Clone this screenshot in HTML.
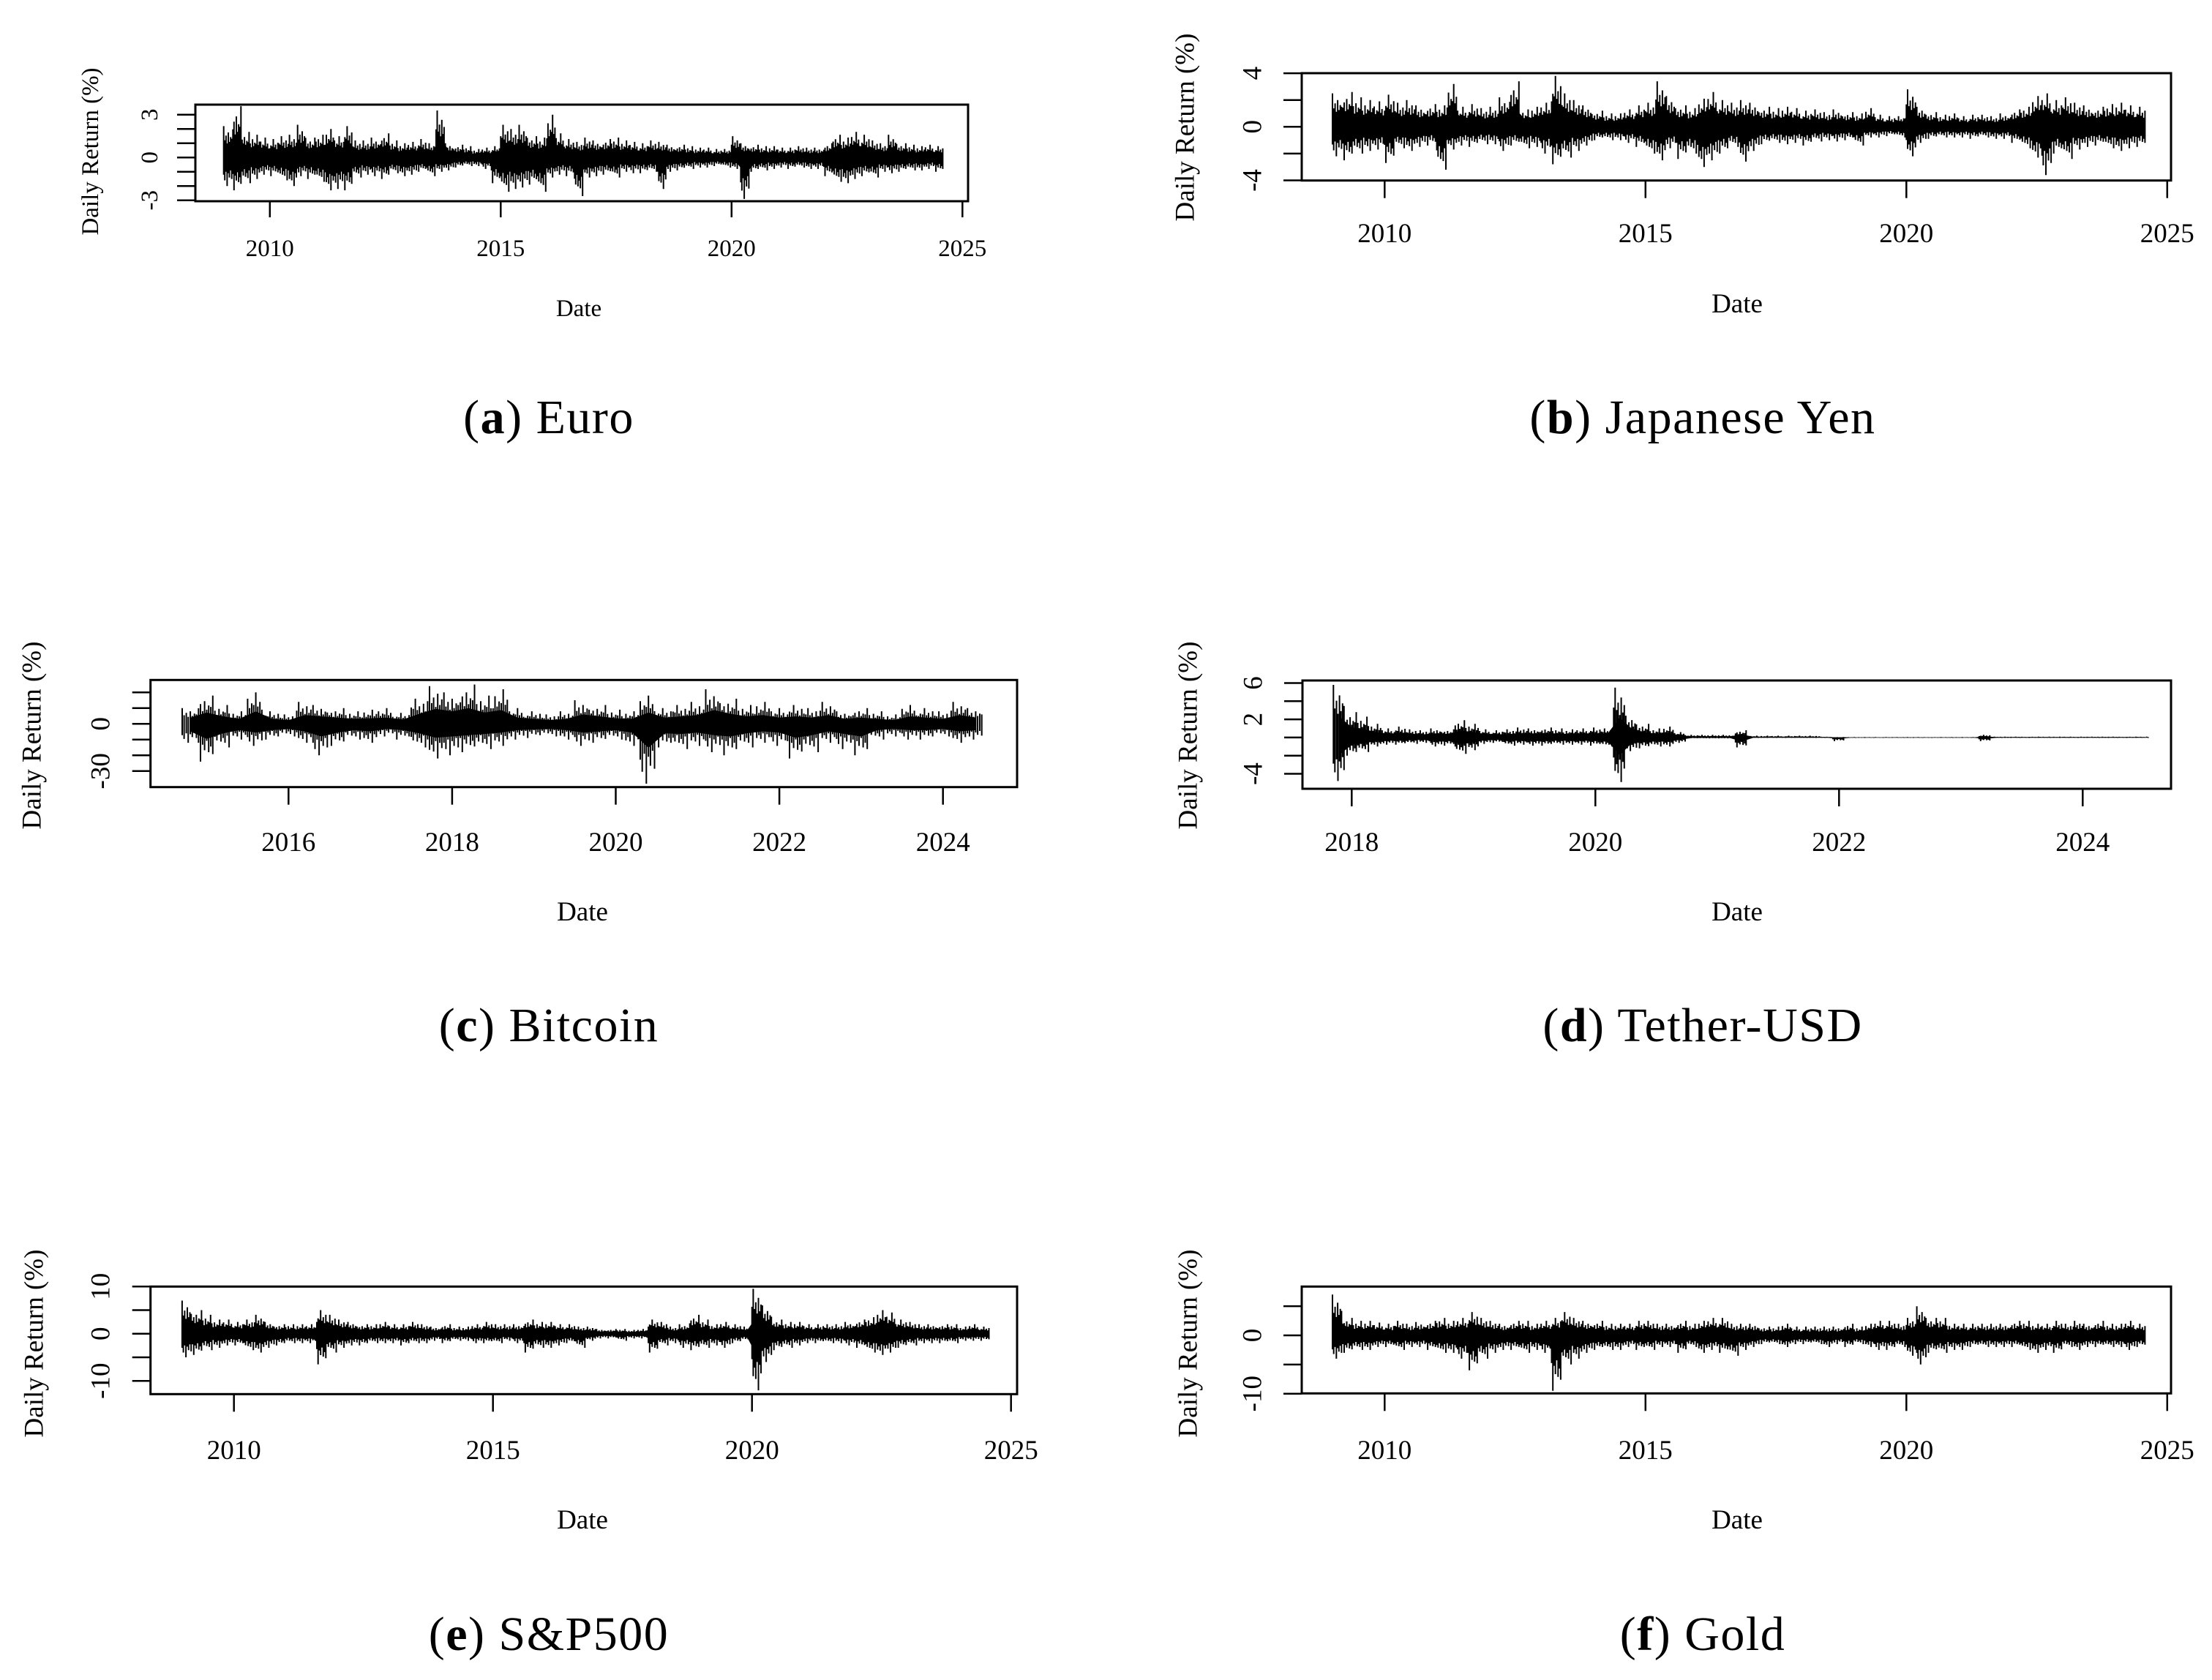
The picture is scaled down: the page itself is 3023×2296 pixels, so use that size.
<!DOCTYPE html>
<html><head><meta charset="utf-8"><style>
html,body{margin:0;padding:0;background:#fff;}
svg{display:block;font-family:"Liberation Serif",serif;}
</style></head><body>
<svg id="fig" width="3023" height="2296" viewBox="0 0 3023 2296" xmlns="http://www.w3.org/2000/svg">
<rect width="3023" height="2296" fill="#fff"/>
<g font-size="66" letter-spacing="1.5" text-anchor="middle">
<text x="750" y="592">(<tspan font-weight="bold">a</tspan>) Euro</text>
<text x="2327" y="592">(<tspan font-weight="bold">b</tspan>) Japanese Yen</text>
<text x="750" y="1423">(<tspan font-weight="bold">c</tspan>) Bitcoin</text>
<text x="2327" y="1423">(<tspan font-weight="bold">d</tspan>) Tether-USD</text>
<text x="750" y="2255">(<tspan font-weight="bold">e</tspan>) S&amp;P500</text>
<text x="2327" y="2255">(<tspan font-weight="bold">f</tspan>) Gold</text>
</g>
</svg>
<script>
// ---- data (bin extremes of daily return, %) ----
const euroStart = 2009.0, euroStep = 0.2;
const euroHi = [2.2,3.6,1.8,1.6,1.4, 1.3,1.5,1.6,2.3,1.4, 1.6,2.0,1.5,2.2,1.2, 1.2,1.4,1.7,1.2,1.0, 1.1,1.3,1.0,3.3,1.0, 0.9,0.8,0.6,0.7,0.8, 2.3,2.0,2.3,1.5,1.4, 3.0,1.7,1.3,1.1,1.4, 1.2,1.3,1.4,1.2,1.1, 1.0,1.2,1.1,0.9,0.9, 0.8,0.7,0.7,0.6,0.6, 1.5,1.0,0.9,0.8,0.8, 0.7,0.7,0.8,0.7,0.7, 1.0,1.6,1.4,1.8,1.6, 1.2,1.0,1.6,1.0,0.9, 0.8,0.9,0.8];
const euroLo = [-2.0,-2.3,-1.8,-1.5,-1.2, -1.3,-1.6,-2.0,-1.3,-1.5, -1.7,-2.3,-2.2,-2.3,-1.4, -1.2,-1.3,-1.5,-1.1,-1.3, -1.2,-1.0,-1.3,-1.0,-0.9, -0.7,-0.6,-0.6,-0.8,-1.8, -2.4,-2.2,-2.1,-1.9,-2.4, -1.4,-1.2,-1.3,-2.7,-1.4, -1.3,-1.2,-1.4,-1.0,-1.1, -1.1,-1.0,-2.2,-1.0,-0.9, -0.8,-0.7,-0.7,-0.6,-0.7, -0.8,-2.9,-1.0,-0.9,-0.8, -0.7,-0.8,-0.7,-0.8,-0.8, -1.3,-1.7,-1.8,-1.5,-1.3, -1.4,-1.0,-1.1,-1.0,-0.9, -0.9,-0.8,-1.0];

const yenStart = 2009.0, yenStep = 0.2;
const yenHi = [2.5,2.6,2.2,2.0,1.9, 2.4,1.8,2.0,1.6,1.7, 1.6,3.2,1.5,1.7,1.4, 1.5,2.2,3.4,1.3,1.5, 1.8,3.8,2.5,2.0,1.6, 1.2,1.0,1.0,1.3,1.6, 1.8,3.4,2.3,1.6,1.4, 2.1,2.6,2.0,1.8,2.0, 1.8,1.5,1.4,1.5,1.4, 1.2,1.3,1.1,1.3,1.1, 1.0,1.4,0.9,0.8,0.8, 2.8,1.5,1.1,0.9,1.0, 0.8,0.9,0.9,0.8,1.0, 1.3,1.5,2.3,2.5,2.0, 2.2,1.8,1.6,1.5,1.7, 1.8,1.6,1.5];
const yenLo = [-2.2,-2.5,-2.0,-1.8,-1.7, -2.7,-1.6,-1.8,-1.5,-1.4, -3.2,-1.7,-1.4,-1.5,-1.3, -1.3,-1.8,-1.4,-1.6,-1.5, -2.0,-2.8,-2.3,-1.8,-1.4, -1.0,-1.0,-1.0,-1.2,-1.5, -2.0,-2.5,-1.6,-2.4,-2.0, -3.0,-2.5,-2.0,-1.5,-2.6, -1.8,-1.3,-1.2,-1.3,-1.2, -1.4,-1.1,-1.0,-1.1,-1.0, -1.4,-0.8,-0.8,-0.7,-0.8, -2.2,-1.2,-0.9,-0.8,-0.8, -0.8,-0.9,-0.8,-0.9,-0.9, -1.2,-1.6,-2.3,-3.6,-2.0, -2.4,-1.7,-1.5,-1.4,-1.6, -1.8,-1.6,-1.5];

const btcStart = 2014.7, btcStep = 0.2;
const btcHi = [10,18,12,8,20, 8,6,14,12,10, 8,9,10,7,16, 24,20,25,18,22, 10,8,6,8,15, 12,9,8,18,10, 12,14,22,16,12, 14,10,12,10,14, 8,10,8,6,12, 10,8,14,10];
const btcLo = [-12,-24,-15,-10,-14, -10,-8,-12,-20,-14, -10,-12,-8,-10,-15, -22,-20,-18,-16,-14, -10,-9,-8,-10,-14, -12,-10,-14,-38,-15, -16,-14,-18,-20,-15, -12,-14,-22,-18,-12, -16,-20,-10,-8,-10, -10,-8,-12,-10];

const usdtStart = 2017.85, usdtStep = 0.1;
const usdtHi = [5.8,2.8,2.3,1.5,1.0,1.2,0.9,0.8,1.0,0.9, 1.9,1.5,0.9,0.8,0.9,1.1,1.0,1.1,1.0,0.9, 1.0,1.1,1.0,5.5,2.4,1.5,1.0,1.2,0.6,0.3, 0.3,0.3,0.3,0.8,0.2,0.2,0.2,0.2,0.2,0.2, 0.1,0.05,0.05,0.05,0.05,0.05,0.05,0.05,0.05,0.05, 0.05,0.05,0.05,0.3,0.1,0.1,0.1,0.1,0.1,0.1, 0.1,0.1,0.1,0.1,0.1,0.1,0.1];
const usdtLo = [-4.8,-2.0,-1.6,-1.0,-0.8,-0.8,-0.7,-0.6,-1.0,-0.9, -1.8,-1.4,-0.7,-0.6,-0.9,-0.8,-0.9,-0.9,-0.8,-0.8, -0.8,-0.9,-1.0,-4.9,-1.5,-1.2,-1.0,-1.0,-0.6,-0.1, -0.1,-0.1,-0.1,-1.1,-0.05,-0.05,-0.05,-0.05,-0.05,-0.05, -0.05,-0.4,-0.05,-0.05,-0.05,-0.05,-0.05,-0.05,-0.05,-0.05, -0.05,-0.05,-0.05,-0.4,-0.05,-0.05,-0.05,-0.05,-0.05,-0.05, -0.05,-0.05,-0.05,-0.05,-0.05,-0.05,-0.05];

const spxStart = 2009.0, spxStep = 0.2;
const spxHi = [7,5,4,3,3, 2.5,3,4,2.5,2, 2,2,2,5,4, 3,2.5,2,2,2.5, 2,2,2.5,2,1.5, 2,1.5,1.5,2,2.5, 2,2,2,3,2.5, 2.5,2,2,1.5,1.5, 1,1,1,0.8,1, 3,2.5,1.5,2,4, 3,2,2.5,2,1.5, 9.5,6,3,2.5,2.5, 2,2,2,2,2.5, 3,3.5,5,4.5,3, 2.5,2,2,2,2, 1.5,2,1.5];
const spxLo = [-5,-4.5,-3.5,-3,-2.5, -2.5,-3.5,-4,-3,-2.5, -2,-2,-2,-6.5,-4, -3,-2.5,-2.5,-2,-2, -2,-2.5,-2,-2,-1.5, -2,-1.5,-1.5,-2,-2, -2,-1.5,-2,-4,-3, -3,-2.5,-2,-3,-1.5, -1,-1,-1.5,-1,-1, -4,-2.5,-2,-3,-3.5, -3,-2.5,-3,-2,-1.5, -12,-6,-3.5,-3,-2.5, -2,-2,-2,-2,-2.5, -3,-4,-4.5,-4,-3, -2.5,-2,-2,-2,-2, -1.5,-1.5,-1.5];

const goldStart = 2009.0, goldStep = 0.2;
const goldHi = [7,3,2.5,2.5,2.2, 2,2.5,2,2.3,2.5, 3,2.5,3,4,3, 2.5,2,2.5,2.5,2, 2.5,3,4,3,2.5, 2.5,2,2,2,2.5, 2.5,2,2,2.5,2, 2.5,3,3,2,2, 2,1.5,1.5,2,1.5, 1.5,1.5,1.5,1.5,2, 1.5,2,2.5,2.5,2, 3,5,3,3,2, 2,2,2,2,2, 2.5,2.5,2,2,2.5, 2,2.5,2,2.5,2, 2,2.5,2];
const goldLo = [-4,-3,-2.5,-2.5,-2, -2,-2.5,-2,-2,-2.5, -3,-3,-4,-6,-4, -3,-2.5,-2.5,-3,-2.5, -3,-9.5,-5,-4,-3, -2.5,-2.5,-2.5,-2,-2.5, -2.5,-2,-2,-3,-2, -3,-2.5,-3,-3.5,-2.5, -2,-1.5,-1.5,-2,-1.5, -1.5,-1.5,-2,-1.5,-2, -1.5,-2,-2.5,-2.5,-2, -3.5,-5,-3,-3,-2.5, -2.5,-2,-2,-2,-2, -2,-2.5,-3,-2.5,-3, -2,-2.5,-2,-2,-2, -2,-2.5,-2];

// tick label arrays
const euroYTicks = [-3,-2,-1,0,1,2,3];
const euroYLabels = [-3,0,3];
const euroXTicks = [2010,2015,2020,2025];
const yenYTicks = [-4,-2,0,2,4];
const yenYLabels = [-4,0,4];
const yenXTicks = [2010,2015,2020,2025];
const btcYTicks = [-30,-20,-10,0,10,20];
const btcYLabels = [-30,0];
const btcXTicks = [2016,2018,2020,2022,2024];
const usdtYTicks = [-4,-2,0,2,4,6];
const usdtYLabels = [-4,2,6];
const usdtXTicks = [2018,2020,2022,2024];
const spxYTicks = [-10,-5,0,5,10];
const spxYLabels = [-10,0,10];
const spxXTicks = [2010,2015,2020,2025];
const goldYTicks = [-10,-5,0,5];
const goldYLabels = [-10,0];
const goldXTicks = [2010,2015,2020,2025];

const NS = "http://www.w3.org/2000/svg";
const svg = document.getElementById('fig');
function mk(tag, attrs, parent){
  const e = document.createElementNS(NS, tag);
  for (const k in attrs) e.setAttribute(k, attrs[k]);
  parent.appendChild(e);
  return e;
}

// sub-bin shape pattern (fractions of bin extremes) for texture
const subPos = [0.0, 0.12, 0.25, 0.37, 0.5, 0.62, 0.75, 0.87];
const subAmpHi = [1.0, 0.55, 0.7, 0.45, 0.8, 0.5, 0.65, 0.6];
const subAmpLo = [0.6, 0.8, 0.5, 1.0, 0.55, 0.7, 0.45, 0.75];

function panel(p){
  const g = mk('g', {}, svg);
  
  
  const xs = yr => p.xRefPx + (yr - p.xRefYr) * p.pxYr;
  const ys = v => p.zero - v * p.pxU;
  const s = mk('g', {}, g);
  
  
  const n = p.hi.length;
  let core = '';
  for (let i = 0; i < n; i++) core += (i ? 'L' : 'M') + xs(p.start + (i + 0.5) * p.step).toFixed(1) + ',' + ys(p.hi[i] * 0.4).toFixed(1);
  for (let i = n - 1; i >= 0; i--) core += 'L' + xs(p.start + (i + 0.5) * p.step).toFixed(1) + ',' + ys(p.lo[i] * 0.4).toFixed(1);
  const band = mk('path', {d: core + 'Z', fill: '#000'}, s);
  
  
  let vl = '';
  for (let i = 0; i < n; i++) {
    for (let k = 0; k < subPos.length; k++) {
      const x = xs(p.start + (i + subPos[k]) * p.step).toFixed(1);
      vl += 'M' + x + ',' + ys(p.hi[i] * subAmpHi[(k + i) % 8]).toFixed(1) + 'V' + ys(p.lo[i] * subAmpLo[(k + 2 * i) % 8]).toFixed(1);
    }
  }
  const line = mk('path', {d: vl, fill: 'none', stroke: '#000', 'stroke-width': 2}, s);
  
  
  const [bx0, by0, bx1, by1] = p.box;
  const box = mk('rect', {x: bx0, y: by0, width: bx1 - bx0, height: by1 - by0, fill: 'none', stroke: '#000', 'stroke-width': 3}, g);
  
  
  p.yTicks.forEach(v => {
    const t = mk('line', {x1: bx0, x2: bx0 - 25, y1: ys(v), y2: ys(v), stroke: '#000', 'stroke-width': 2.5}, g);
    
    
  });
  p.yLabels.forEach(v => {
    const t = mk('text', {transform: 'translate(' + p.yLabX + ',' + ys(v) + ') rotate(-90)', 'text-anchor': 'middle', 'dominant-baseline': 'central', 'font-size': p.fs}, g);
    t.textContent = String(v);
    
    
  });
  p.xTicks.forEach(yr => {
    const t = mk('line', {x1: xs(yr), x2: xs(yr), y1: by1, y2: by1 + p.xTickLen, stroke: '#000', 'stroke-width': 2.5}, g);
    
    
    const l = mk('text', {x: xs(yr), y: p.xLabY, 'text-anchor': 'middle', 'font-size': p.fs}, g);
    l.textContent = String(yr);
    
    
  });
  const d = mk('text', {x: p.dateX, y: p.dateY, 'text-anchor': 'middle', 'font-size': p.fs}, g);
  d.textContent = 'Date';
  
  
  const yt = mk('text', {transform: 'translate(' + p.ytX + ',' + p.ytY + ') rotate(-90)', 'text-anchor': 'middle', 'dominant-baseline': 'central', 'font-size': p.fs}, g);
  yt.textContent = 'Daily Return (%)';
  
  
}

panel({id:'euro', hi:euroHi, lo:euroLo, start:euroStart, step:euroStep, box:[267,143,1323,275], xRefYr:2010, xRefPx:368.8, pxYr:63.1, zero:215.3, pxU:19.5, yTicks:euroYTicks, yLabels:euroYLabels, xTicks:euroXTicks, yLabX:205, xTickLen:22, xLabY:350, fs:33, dateX:791, dateY:432, ytX:124, ytY:207});
panel({id:'yen', hi:yenHi, lo:yenLo, start:yenStart, step:yenStep, box:[1779,100,2967,246.7], xRefYr:2010, xRefPx:1892.3, pxYr:71.3, zero:173.3, pxU:18.3, yTicks:yenYTicks, yLabels:yenYLabels, xTicks:yenXTicks, yLabX:1712, xTickLen:24, xLabY:331, fs:37, dateX:2374, dateY:427, ytX:1620, ytY:174});
panel({id:'bitcoin', hi:btcHi, lo:btcLo, start:btcStart, step:btcStep, box:[205.7,929.3,1390,1075.7], xRefYr:2016, xRefPx:394.3, pxYr:111.8, zero:989.3, pxU:2.15, yTicks:btcYTicks, yLabels:btcYLabels, xTicks:btcXTicks, yLabX:138, xTickLen:24, xLabY:1163, fs:37, dateX:796, dateY:1258, ytX:44, ytY:1005});
panel({id:'tether', hi:usdtHi, lo:usdtLo, start:usdtStart, step:usdtStep, box:[1780,930,2967,1078], xRefYr:2018, xRefPx:1847.3, pxYr:166.5, zero:1007.9, pxU:12.4, yTicks:usdtYTicks, yLabels:usdtYLabels, xTicks:usdtXTicks, yLabX:1713, xTickLen:24, xLabY:1163, fs:37, dateX:2374, dateY:1258, ytX:1624, ytY:1005});
panel({id:'sp500', hi:spxHi, lo:spxLo, start:spxStart, step:spxStep, box:[205.7,1758.3,1390,1905.3], xRefYr:2010, xRefPx:319.7, pxYr:70.8, zero:1822.7, pxU:6.45, yTicks:spxYTicks, yLabels:spxYLabels, xTicks:spxXTicks, yLabX:138, xTickLen:24, xLabY:1994, fs:37, dateX:796, dateY:2089, ytX:47, ytY:1836});
panel({id:'gold', hi:goldHi, lo:goldLo, start:goldStart, step:goldStep, box:[1779,1758.3,2967,1904.3], xRefYr:2010, xRefPx:1892.3, pxYr:71.3, zero:1825, pxU:7.97, yTicks:goldYTicks, yLabels:goldYLabels, xTicks:goldXTicks, yLabX:1712, xTickLen:24, xLabY:1994, fs:37, dateX:2374, dateY:2089, ytX:1624, ytY:1836});
</script>
</body></html>
